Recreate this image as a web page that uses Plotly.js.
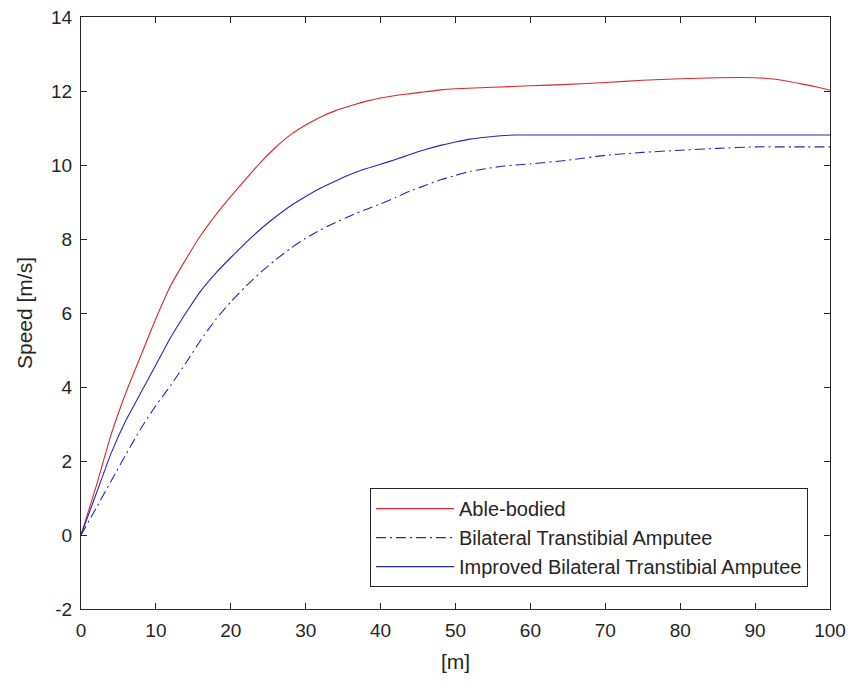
<!DOCTYPE html>
<html>
<head>
<meta charset="utf-8">
<script src="https://cdn.plot.ly/plotly-3.0.1.min.js"></script>
<style>html,body{margin:0;padding:0;background:#fff;}#chart{width:851px;height:684px;}</style>
</head>
<body>
<div id="chart"></div>
<script>
const ableX = [0,2,4,6,8,10,12,14,16,18,20,22,24,26,28,30,32,34,36,38,40,42,44,46,48,50,55,60,65,70,75,80,85,90,93,96,98,100];
const ableY = [0,1.3,2.7,3.85,4.85,5.85,6.75,7.45,8.1,8.65,9.15,9.62,10.08,10.48,10.82,11.08,11.3,11.47,11.6,11.72,11.81,11.88,11.93,11.98,12.03,12.06,12.1,12.14,12.18,12.23,12.29,12.33,12.36,12.36,12.31,12.2,12.12,12.02];

const btaX = [0,2,4,6,8,10,12,14,16,18,20,22,24,26,28,30,32,34,36,38,40,42,44,46,48,50,52,54,56,58,60,65,70,75,80,85,90,95,100];
const btaY = [0,0.72,1.45,2.18,2.88,3.5,4.05,4.65,5.27,5.83,6.3,6.72,7.1,7.44,7.75,8.02,8.25,8.45,8.63,8.8,8.95,9.12,9.3,9.45,9.6,9.72,9.83,9.9,9.96,10.0,10.03,10.13,10.26,10.34,10.4,10.45,10.49,10.49,10.49];

const ibtaX = [0,2,4,6,8,10,12,14,16,18,20,22,24,26,28,30,32,34,36,38,40,42,44,46,48,50,52,54,56,58,70,80,90,100];
const ibtaY = [0,1.1,2.2,3.1,3.85,4.6,5.35,6.0,6.6,7.08,7.5,7.9,8.27,8.6,8.9,9.15,9.38,9.57,9.75,9.9,10.02,10.15,10.29,10.42,10.53,10.62,10.7,10.75,10.79,10.81,10.81,10.81,10.81,10.81];

const names = ['Able-bodied','Bilateral Transtibial Amputee','Improved Bilateral Transtibial Amputee'];
const xTicks = [0,10,20,30,40,50,60,70,80,90,100];
const yTicks = [-2,0,2,4,6,8,10,12,14];

const RED = 'rgb(218,40,45)';
const BLUE = 'rgb(38,38,190)';
const AX = '#262626';
const FONT = 'Liberation Sans, Arial, sans-serif';

const traces = [
  {x: ableX, y: ableY, name: names[0], mode: 'lines', line: {color: RED, width: 1.1, shape: 'spline', smoothing: 0.5}},
  {x: btaX, y: btaY, name: names[1], mode: 'lines', line: {color: BLUE, width: 1.1, dash: '10px,4px,2px,4px', shape: 'spline', smoothing: 0.5}},
  {x: ibtaX, y: ibtaY, name: names[2], mode: 'lines', line: {color: BLUE, width: 1.1, shape: 'spline', smoothing: 0.3}}
];

const axisCommon = {
  showgrid: false, zeroline: false, showline: true, linecolor: AX, linewidth: 1,
  mirror: 'ticks', ticks: 'inside', ticklen: 6, tickcolor: AX, tickwidth: 1,
  ticklabelstandoff: 4,
  tickfont: {family: FONT, size: 19, color: AX}
};

const layout = {
  width: 851, height: 684,
  margin: {l: 81, r: 21, t: 17, b: 75},
  paper_bgcolor: '#fff', plot_bgcolor: '#fff',
  showlegend: true,
  xaxis: Object.assign({}, axisCommon, {
    range: [0, 100], tickvals: xTicks, ticktext: xTicks.map(String),
    title: {text: '[m]', font: {family: FONT, size: 21, color: AX}, standoff: 14}
  }),
  yaxis: Object.assign({}, axisCommon, {
    range: [-2, 14], tickvals: yTicks, ticktext: yTicks.map(String),
    title: {text: 'Speed [m/s]', font: {family: FONT, size: 21, color: AX}, standoff: 12}
  }),
  legend: {
    x: 0.9706, y: 0.037, xanchor: 'right', yanchor: 'bottom',
    bgcolor: '#fff', bordercolor: AX, borderwidth: 1,
    font: {family: FONT, size: 20, color: AX},
    itemwidth: 78
  }
};

Plotly.newPlot('chart', traces, layout, {staticPlot: true, displayModeBar: false});
</script>
</body>
</html>
